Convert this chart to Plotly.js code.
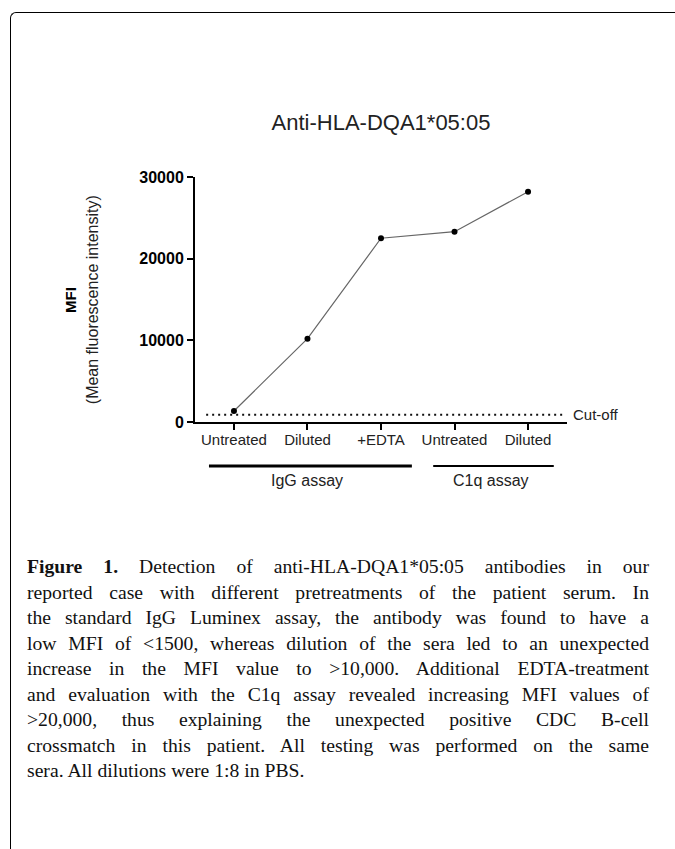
<!DOCTYPE html>
<html>
<head>
<meta charset="utf-8">
<script src="https://cdn.plot.ly/plotly-3.0.1.min.js"></script>
<style>
  html, body { margin: 0; padding: 0; background: #fff; overflow: hidden; }
  body { width: 675px; height: 849px; position: relative; overflow: hidden; }
  #frame { position: absolute; left: 10px; top: 12px; width: 900px; height: 900px;
           border-top: 1px solid #000; border-left: 1px solid #000;
           border-top-left-radius: 6px; box-sizing: border-box; }
  #chart { position: absolute; left: 0; top: 0; width: 675px; height: 849px; }
  #caption { position: absolute; left: 27px; top: 554px; width: 622px;
             font-family: "Liberation Serif", "Times New Roman", serif; font-size: 20px;
             line-height: 25.5px; color: #111; }
  #caption div { text-align: justify; text-align-last: justify; white-space: nowrap; }
  #caption div.last { text-align-last: left; }
</style>
</head>
<body>
<div id="frame"></div>
<div id="chart"></div>
<div id="caption"></div>
<script>
// ---- data ----
const categories = ['Untreated', 'Diluted', '+EDTA', 'Untreated', 'Diluted'];
const mfiValues = [1350, 10200, 22500, 23300, 28200];
const cutoffValue = 900;
const cutoffLabel = 'Cut-off';
const yTickValues = [0, 10000, 20000, 30000];
const groupLabels = ['IgG assay', 'C1q assay'];
const groupStart = [0, 3];
const groupEnd = [2, 4];
const chartTitle = 'Anti-HLA-DQA1*05:05';
const yTitleMain = 'MFI';
const yTitleSub = '(Mean fluorescence intensity)';
const captionLines = [
  '<b>Figure 1.</b> Detection of anti-HLA-DQA1*05:05 antibodies in our',
  'reported case with different pretreatments of the patient serum. In',
  'the standard IgG Luminex assay, the antibody was found to have a',
  'low MFI of &lt;1500, whereas dilution of the sera led to an unexpected',
  'increase in the MFI value to &gt;10,000. Additional EDTA-treatment',
  'and evaluation with the C1q assay revealed increasing MFI values of',
  '&gt;20,000, thus explaining the unexpected positive CDC B-cell',
  'crossmatch in this patient. All testing was performed on the same',
  'sera. All dilutions were 1:8 in PBS.'
];

// ---- caption (justified lines, font fitted to the column) ----
const cap = document.getElementById('caption');
const spans = [];
captionLines.forEach((t, i) => {
  const d = document.createElement('div');
  const s = document.createElement('span');
  s.innerHTML = t;
  d.appendChild(s);
  if (i === captionLines.length - 1) d.className = 'last';
  cap.appendChild(d);
  spans.push(s);
});
const baseSize = 20;
const maxW = Math.max(...spans.map(s => s.getBoundingClientRect().width));
cap.style.fontSize = Math.min(21.5, baseSize * 612 / maxW) + 'px';

// ---- chart ----
const xIdx = categories.map((_, i) => i);
const font = 'Arial, "Liberation Sans", sans-serif';
const txt = '#222';

const traces = [{
  x: xIdx, y: mfiValues, type: 'scatter', mode: 'lines+markers',
  line: { color: '#666', width: 1.2 },
  marker: { color: '#000', size: 6 },
  hoverinfo: 'skip', showlegend: false, cliponaxis: false
}];

const shapes = [{
  type: 'line', xref: 'paper', yref: 'y', x0: 0.03, x1: 0.99,
  y0: cutoffValue, y1: cutoffValue,
  line: { color: '#111', width: 2, dash: '2px,4px' }
}];
const padL = [0.34, 0.29], padR = [0.42, 0.35], lw = [3, 2];
groupLabels.forEach((g, i) => {
  shapes.push({
    type: 'line', xref: 'x', yref: 'paper',
    x0: groupStart[i] - padL[i], x1: groupEnd[i] + padR[i], y0: -0.18, y1: -0.18,
    line: { color: '#000', width: lw[i] }
  });
});

const annotations = [
  { text: cutoffLabel, xref: 'paper', yref: 'y', x: 1.01, y: cutoffValue,
    xanchor: 'left', yanchor: 'middle', showarrow: false,
    font: { family: font, size: 15, color: txt } },
  { text: '<b>' + yTitleMain + '</b>', xref: 'paper', yref: 'paper', x: -0.335, y: 0.5,
    xanchor: 'center', yanchor: 'middle', textangle: -90, showarrow: false,
    font: { family: font, size: 15, color: '#000' } },
  { text: yTitleSub, xref: 'paper', yref: 'paper', x: -0.275, y: 0.5,
    xanchor: 'center', yanchor: 'middle', textangle: -90, showarrow: false,
    font: { family: font, size: 16, color: txt } }
];
groupLabels.forEach((g, i) => {
  annotations.push({
    text: g, xref: 'x', yref: 'paper', x: (groupStart[i] + groupEnd[i]) / 2, y: -0.24,
    xanchor: 'center', yanchor: 'middle', showarrow: false,
    font: { family: font, size: 16, color: txt }
  });
});

const layout = {
  width: 675, height: 849,
  margin: { l: 195, r: 108, t: 177, b: 427, pad: 0 },
  paper_bgcolor: 'rgba(0,0,0,0)', plot_bgcolor: 'rgba(0,0,0,0)',
  showlegend: false,
  title: { text: chartTitle, xref: 'paper', x: 0.5, xanchor: 'center',
           yref: 'container', y: 1 - 122 / 849, yanchor: 'middle',
           font: { family: font, size: 22, color: txt } },
  xaxis: {
    range: [-0.53, 4.53], tickmode: 'array', tickvals: xIdx, ticktext: categories,
    showline: true, linecolor: '#000', linewidth: 2, ticks: 'outside', ticklen: 6,
    tickwidth: 2, tickcolor: '#000', showgrid: false, zeroline: false,
    ticklabelstandoff: -3,
    tickfont: { family: font, size: 15, color: txt }, fixedrange: true
  },
  yaxis: {
    range: [0, 30000], tickmode: 'array', tickvals: yTickValues,
    ticktext: yTickValues.map(String),
    showline: true, linecolor: '#000', linewidth: 2, ticks: 'outside', ticklen: 6,
    tickwidth: 2, tickcolor: '#000', showgrid: false, zeroline: false,
    tickfont: { family: font, size: 16, color: '#000', weight: 'bold' }, fixedrange: true
  },
  shapes: shapes,
  annotations: annotations
};

Plotly.newPlot('chart', traces, layout, { staticPlot: true, displayModeBar: false });
</script>
</body>
</html>
